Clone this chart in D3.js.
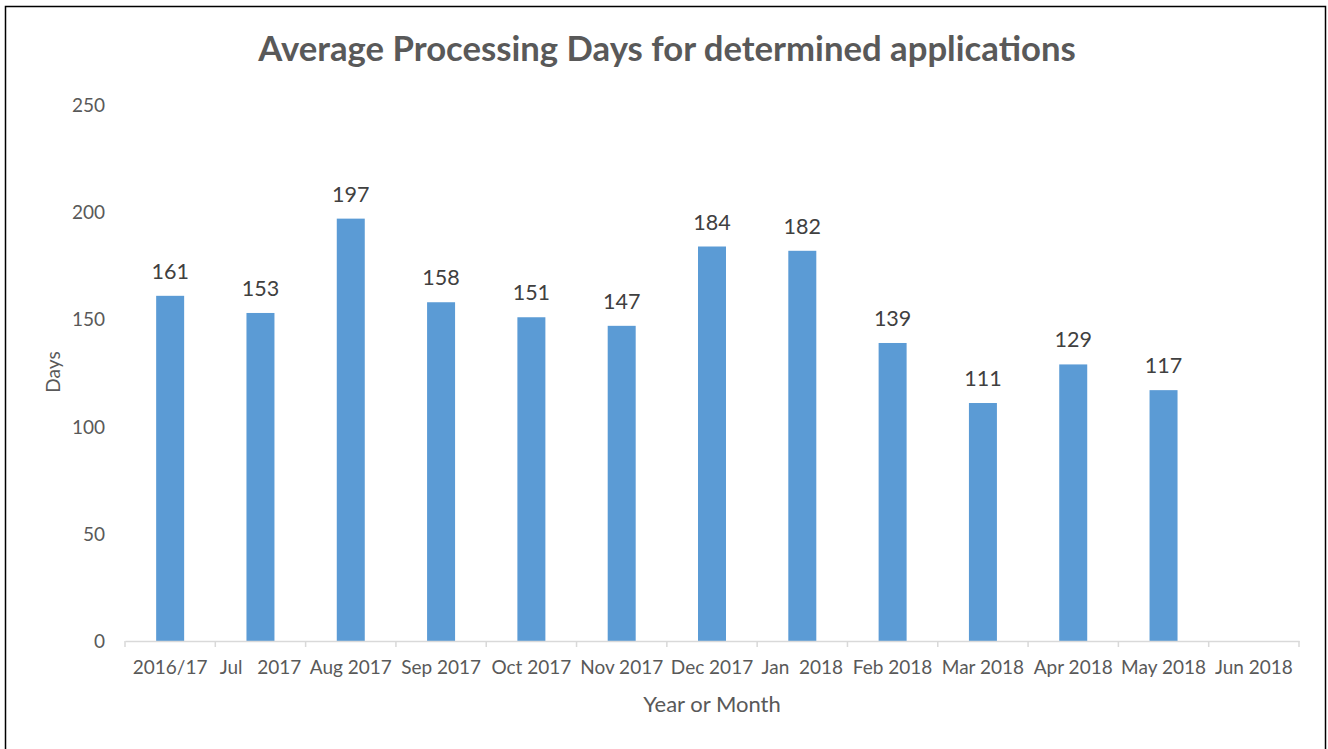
<!DOCTYPE html>
<html>
<head>
<meta charset="utf-8">
<script src="https://d3js.org/d3.v7.min.js"></script>
<style>
  body { margin: 0; background: #fff; }
  text { font-family: Lato, "Open Sans", sans-serif; }
</style>
</head>
<body>
<script>
// data
var months = ["2016/17", "Jul   2017", "Aug 2017", "Sep 2017", "Oct 2017", "Nov 2017",
    "Dec 2017", "Jan  2018", "Feb 2018", "Mar 2018", "Apr 2018", "May 2018", "Jun 2018"];
var days = [161, 153, 197, 158, 151, 147, 184, 182, 139, 111, 129, 117, null];
var yTicks = [0, 50, 100, 150, 200, 250];

var width = 1328, height = 749;
var margin = {top: 105, right: 29, bottom: 108, left: 125};

var svg = d3.select("body").append("svg").attr("width", width).attr("height", height);

// outer frame
svg.append("rect").attr("x", 5.5).attr("y", 6.5).attr("width", 1320).attr("height", 760)
    .attr("fill", "none").attr("stroke", "#000").attr("stroke-width", 1.5);

var x = d3.scaleBand().domain(months).range([margin.left, width - margin.right]).paddingInner(0.69).paddingOuter(0.345);
var xAxisScale = d3.scaleBand().domain(months).range([margin.left, width - margin.right]);
var y = d3.scaleLinear().domain([0, 250]).range([height - margin.bottom, margin.top]);

// title
svg.append("text").attr("x", 667).attr("y", 61).attr("text-anchor", "middle")
    .attr("font-size", 34.7).attr("font-weight", "bold").attr("fill", "#595959")
    .text("Average Processing Days for determined applications");

// y tick labels
svg.selectAll(".ytick").data(yTicks).enter().append("text")
    .attr("class", "ytick")
    .attr("x", 105).attr("y", function (d) { return y(d) + 7; })
    .attr("text-anchor", "end").attr("font-size", 19).attr("fill", "#595959")
    .text(function (d) { return d; });

// bars
var data = months.map(function (m, i) { return {m: m, v: days[i]}; }).filter(function (d) { return d.v !== null; });
svg.selectAll(".bar").data(data).enter().append("rect")
    .attr("class", "bar")
    .attr("x", function (d) { return x(d.m); })
    .attr("width", x.bandwidth())
    .attr("y", function (d) { return y(d.v); })
    .attr("height", function (d) { return y(0) - y(d.v); })
    .attr("fill", "#5b9bd5");

// data labels
svg.selectAll(".lbl").data(data).enter().append("text")
    .attr("class", "lbl")
    .attr("x", function (d) { return x(d.m) + x.bandwidth() / 2; })
    .attr("y", function (d) { return y(d.v) - 17; })
    .attr("text-anchor", "middle").attr("font-size", 21.5).attr("fill", "#404040")
    .text(function (d) { return d.v; });

// x axis
var xAxis = svg.append("g").attr("transform", "translate(0," + y(0) + ")")
    .call(d3.axisBottom(xAxisScale).tickSize(0).tickPadding(20));
xAxis.select(".domain").attr("stroke", "#d9d9d9").attr("stroke-width", 1.5);
xAxis.selectAll("text").attr("font-size", 19).attr("fill", "#595959")
    .attr("font-family", "Lato, 'Open Sans', sans-serif").style("white-space", "pre");
var bounds = months.map(function (m) { return xAxisScale(m); }).concat([width - margin.right]);
xAxis.selectAll(".sep").data(bounds).enter().append("line")
    .attr("class", "sep")
    .attr("x1", function (d) { return d; }).attr("x2", function (d) { return d; })
    .attr("y1", 0).attr("y2", 6).attr("stroke", "#d9d9d9").attr("stroke-width", 1.5);

// axis titles
svg.append("text").attr("transform", "translate(60,372) rotate(-90)")
    .attr("text-anchor", "middle").attr("font-size", 19).attr("fill", "#595959").text("Days");
svg.append("text").attr("x", 712).attr("y", 712).attr("text-anchor", "middle")
    .attr("font-size", 22).attr("fill", "#595959").text("Year or Month");
</script>
</body>
</html>
